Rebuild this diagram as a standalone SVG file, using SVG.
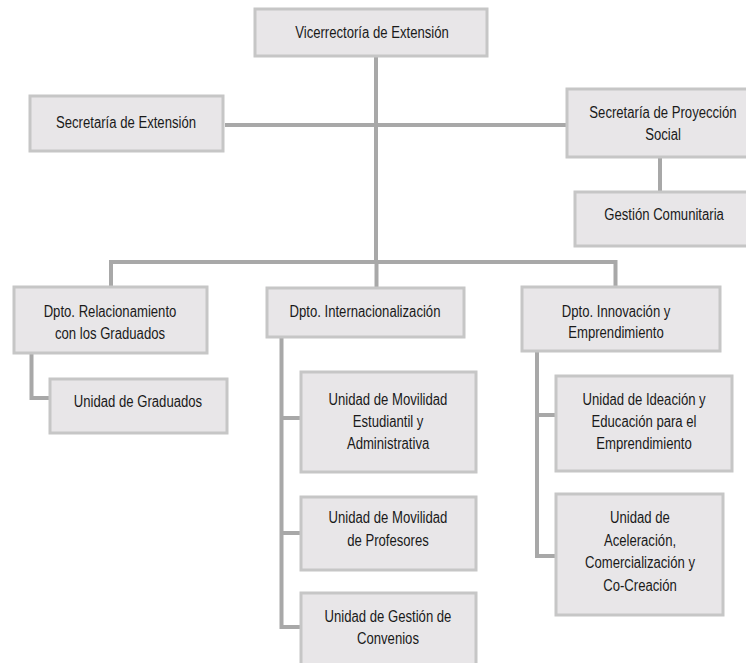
<svg xmlns="http://www.w3.org/2000/svg" width="746" height="663" viewBox="0 0 746 663">
<style>
.box{fill:#e8e6e8;stroke:#c6c6c6;stroke-width:3}
.ln{fill:none;stroke:#a8a8a8;stroke-width:4;stroke-linejoin:miter}
text{font-family:"Liberation Sans",Arial,sans-serif;font-size:16px;fill:#1a1a1a;text-anchor:middle;transform-box:fill-box;transform-origin:center;transform:scaleX(0.82)}
</style>
<rect width="746" height="663" fill="#ffffff"/>
<g id="connectors">
<path class="ln" d="M376,56 V262"/>
<path class="ln" d="M225,125 H567"/>
<path class="ln" d="M660,157 V192"/>
<path class="ln" d="M111,287 V262 H615.5 V287"/>
<path class="ln" d="M376.5,262 V288"/>
<path class="ln" d="M31.5,353 V398 H50"/>
<path class="ln" d="M281.5,337 V627 H301"/>
<path class="ln" d="M281.5,418 H301"/>
<path class="ln" d="M281.5,533 H301"/>
<path class="ln" d="M537,351 V556 H556"/>
<path class="ln" d="M537,415 H556"/>
</g>
<g id="vicerrectoria"><rect class="box" x="255" y="9" width="232" height="47"/><text x="372" y="38">Vicerrectoría de Extensión</text></g>
<g id="sec-extension"><rect class="box" x="30" y="96" width="193" height="55"/><text x="126" y="128">Secretaría de Extensión</text></g>
<g id="sec-proyeccion"><rect class="box" x="567" y="89" width="190" height="68"/><text x="663" y="118">Secretaría de Proyección</text><text x="663" y="140">Social</text></g>
<g id="gestion-comunitaria"><rect class="box" x="575" y="192" width="185" height="54"/><text x="664" y="220">Gestión Comunitaria</text></g>
<g id="dpto-relacionamiento"><rect class="box" x="14" y="287" width="193" height="66"/><text x="110" y="317">Dpto. Relacionamiento</text><text x="110" y="339">con los Graduados</text></g>
<g id="unidad-graduados"><rect class="box" x="50" y="379" width="177" height="54"/><text x="138" y="407">Unidad de Graduados</text></g>
<g id="dpto-internacionalizacion"><rect class="box" x="267" y="288" width="197" height="49"/><text x="365" y="317">Dpto. Internacionalización</text></g>
<g id="dpto-innovacion"><rect class="box" x="522" y="287" width="198" height="64"/><text x="616" y="317">Dpto. Innovación y</text><text x="616" y="338">Emprendimiento</text></g>
<g id="unidad-movilidad-estudiantil"><rect class="box" x="301" y="372" width="175" height="100"/><text x="388" y="405">Unidad de Movilidad</text><text x="388" y="427">Estudiantil y</text><text x="388" y="449">Administrativa</text></g>
<g id="unidad-movilidad-profesores"><rect class="box" x="301" y="497" width="175" height="73"/><text x="388" y="523">Unidad de Movilidad</text><text x="388" y="546">de Profesores</text></g>
<g id="unidad-convenios"><rect class="box" x="301" y="593" width="175" height="80"/><text x="388" y="622">Unidad de Gestión de</text><text x="388" y="644">Convenios</text></g>
<g id="unidad-ideacion"><rect class="box" x="556" y="376" width="176" height="95"/><text x="644" y="405">Unidad de Ideación y</text><text x="644" y="427">Educación para el</text><text x="644" y="449">Emprendimiento</text></g>
<g id="unidad-aceleracion"><rect class="box" x="556" y="494" width="167" height="121"/><text x="640" y="523">Unidad de</text><text x="640" y="546">Aceleración,</text><text x="640" y="568">Comercialización y</text><text x="640" y="591">Co-Creación</text></g>
</svg>
